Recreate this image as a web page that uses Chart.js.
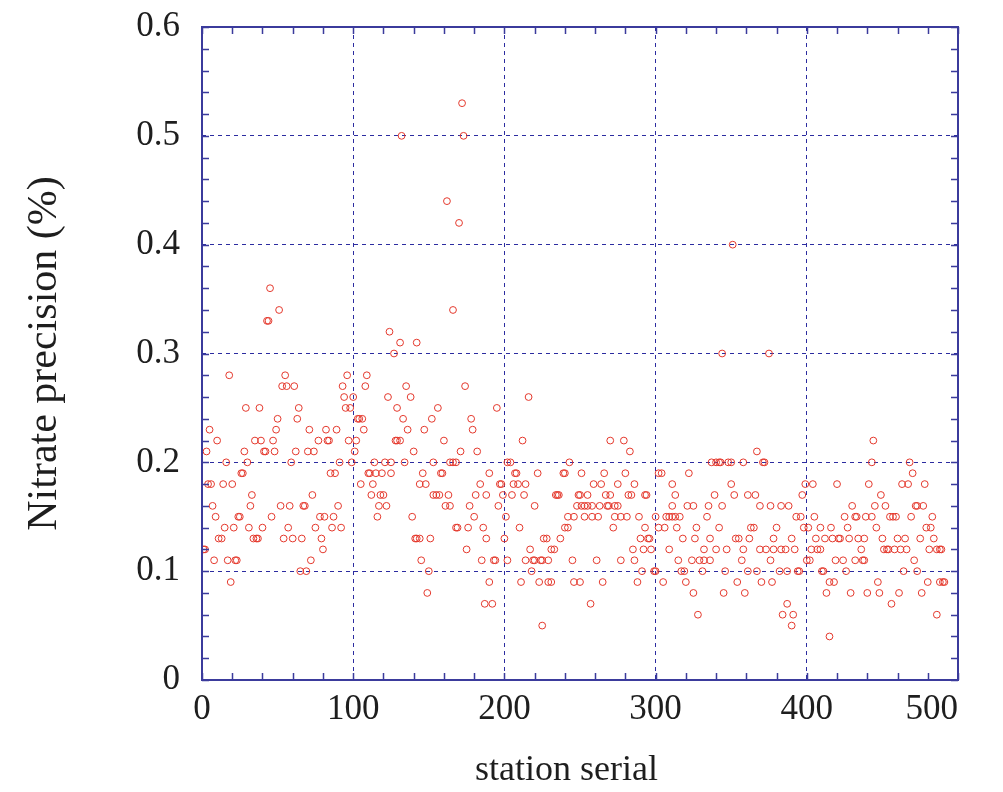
<!DOCTYPE html>
<html>
<head>
<meta charset="utf-8">
<script src="https://cdn.jsdelivr.net/npm/chart.js@4.4.1/dist/chart.umd.min.js"></script>
<style>
  html, body { margin: 0; padding: 0; background: #fff; }
</style>
</head>
<body>
<canvas id="myChart" width="1003" height="792"></canvas>
<script>
// station serial numbers
var serial = [
  1,2,3,4,5,6,7,8,9,10,
  11,13,14,15,16,17,18,19,20,21,
  22,23,24,25,26,27,28,29,30,31,
  32,33,34,35,36,37,38,39,40,41,
  42,43,44,45,46,47,48,49,50,51,
  52,53,54,55,56,57,58,59,60,61,
  62,63,64,65,66,67,68,69,70,71,
  72,73,74,75,77,78,79,80,81,82,
  83,84,85,86,87,88,89,90,91,92,
  93,94,95,96,97,98,99,100,101,102,
  103,104,105,106,107,108,109,110,111,112,
  113,114,115,116,117,118,119,120,121,122,
  123,124,125,125,127,128,129,129,
  131,131,132,133,134,135,136,138,139,140,
  141,142,142,144,144,145,146,147,148,149,
  150,151,152,153,153,155,156,157,158,159,
  160,161,162,163,164,164,166,166,168,168,
  169,170,171,172,173,174,175,176,177,178,
  179,180,181,182,184,185,186,187,188,188,
  190,190,192,193,194,195,196,197,198,
  199,200,201,202,202,204,205,206,207,208,
  209,210,211,212,213,214,214,216,217,218,
  219,220,220,222,223,224,225,225,226,228,
  229,229,231,231,233,234,235,236,237,239,
  240,240,242,242,243,245,246,246,248,249,
  250,250,251,251,253,253,255,255,257,258,
  258,259,261,262,263,264,265,266,267,268,
  269,270,270,272,273,273,275,275,277,277,
  279,280,281,282,283,284,285,286,286,288,
  289,290,291,292,293,293,294,295,296,297,
  299,300,300,302,302,304,305,306,307,309,
  309,311,311,311,313,313,314,315,316,317,
  318,319,320,321,322,324,325,325,326,
  327,328,329,331,332,332,334,335,336,336,
  337,339,340,340,342,342,343,344,344,345,
  346,347,348,350,350,351,352,353,354,355,
  357,358,358,359,361,361,362,363,365,366,
  367,367,369,369,370,371,372,373,375,376,
  376,377,378,378,380,382,383,383,384,
  386,387,387,388,390,390,391,392,393,394,
  395,396,397,398,399,400,401,402,403,404,
  405,406,407,409,409,410,411,412,413,415,
  415,416,417,418,419,420,421,422,424,425,
  426,427,428,429,430,432,432,433,434,436,
  437,438,438,439,440,441,443,443,444,
  445,446,447,448,449,450,451,452,453,454,
  455,456,457,458,459,460,461,462,463,464,
  465,466,467,468,469,470,471,472,473,473,
  475,476,477,478,479,480,481,482,483,484,
  486,486,488,488,489,490,491
]

// nitrate precision (%) for each station above
var precision = [
  .12,.12,.21,.18,.23,.18,.16,.11,.15,.22,
  .13,.13,.18,.14,.2,.11,.28,.09,.18,.14,
  .11,.11,.15,.15,.19,.19,.21,.25,.2,.14,
  .16,.17,.13,.22,.13,.13,.25,.22,.14,.21,
  .21,.33,.33,.36,.15,.22,.21,.23,.24,.34,
  .16,.27,.13,.28,.27,.14,.16,.2,.13,.27,
  .21,.24,.25,.1,.13,.16,.16,.1,.21,.23,
  .11,.17,.21,.14,.22,.15,.13,.12,.15,.23,
  .22,.22,.19,.14,.15,.19,.23,.16,.2,.14,
  .27,.26,.25,.28,.22,.25,.2,.26,.21,.22,
  .24,.24,.18,.24,.23,.27,.28,.19,.19,.17,
  .18,.2,.19,.15,.16,.17,.19,.17,.2,.16,
  .26,.32,.19,.2,.3,.22,.25,.22,
  .22,.31,.5,.24,.2,.27,.23,.26,.15,.21,
  .13,.31,.13,.13,.18,.11,.19,.23,.18,.08,
  .1,.13,.24,.2,.17,.17,.25,.17,.19,.19,
  .22,.16,.44,.17,.16,.2,.2,.34,.2,.14,
  .14,.42,.21,.53,.5,.27,.12,.14,.16,.24,
  .23,.15,.17,.21,.18,.11,.14,.07,.13,.17,
  .19,.09,.07,.11,.11,.25,.16,.18,.18,
  .17,.13,.15,.11,.2,.2,.17,.18,.19,.19,
  .18,.14,.09,.22,.17,.18,.11,.26,.12,.1,
  .11,.16,.11,.19,.09,.11,.05,.11,.13,.13,
  .11,.09,.09,.12,.12,.17,.17,.17,.13,.19,
  .19,.14,.14,.15,.2,.11,.15,.09,.16,.17,
  .17,.09,.19,.16,.15,.16,.16,.17,.07,.15,
  .16,.18,.11,.15,.16,.18,.09,.19,.17,.16,
  .16,.22,.17,.14,.15,.16,.18,.16,.11,.15,
  .22,.19,.15,.17,.21,.17,.12,.11,.18,.09,
  .15,.13,.1,.12,.17,.14,.17,.13,.13,.12,
  .1,.1,.15,.19,.14,.19,.09,.14,.15,.15,
  .12,.16,.15,.18,.15,.17,.14,.11,.15,.1,
  .13,.1,.09,.16,.19,.11,.16,.08,.13,
  .14,.06,.11,.1,.12,.11,.15,.16,.11,.13,
  .2,.17,.12,.2,.14,.2,.2,.16,.3,.08,
  .1,.12,.2,.2,.18,.4,.17,.13,.09,.13,
  .11,.12,.2,.08,.17,.1,.13,.14,.14,.17,
  .1,.21,.16,.12,.09,.2,.2,.12,.3,.16,
  .11,.09,.13,.12,.14,.1,.16,.12,.06,
  .12,.07,.1,.16,.05,.13,.06,.12,.15,.1,
  .1,.15,.17,.14,.18,.11,.14,.11,.12,.18,
  .15,.13,.12,.12,.14,.1,.1,.13,.08,.09,
  .04,.14,.13,.09,.11,.18,.13,.13,.11,.15,
  .1,.14,.13,.08,.16,.11,.15,.15,.13,.12,
  .11,.11,.13,.15,.08,.18,.2,.15,.22,
  .16,.14,.09,.08,.17,.13,.12,.16,.12,.12,
  .15,.07,.15,.12,.15,.13,.08,.12,.18,.1,
  .13,.12,.18,.2,.15,.19,.11,.16,.16,.1,
  .13,.08,.16,.18,.14,.09,.12,.14,.15,.13,
  .06,.12,.12,.09,.12,.09,.09
]

// axis tick values
var xTicks = [0, 100, 200, 300, 400, 500]
var yTicks = [0, 0.1, 0.2, 0.3, 0.4, 0.5, 0.6]
var xMinorStep = 20
var yMinorStep = 0.02

if (serial.length !== precision.length) console.log("length mismatch", serial.length, precision.length)

var points = []
for (var i = 0; i < serial.length; i++) {
    points.push({x: serial[i], y: precision[i]})
}

var frameColor = "#3b3b9c"
var gridColor = "#2c2ca0"
var textColor = "#1e1e1e"
var serif = "'Liberation Serif', 'DejaVu Serif', serif"

// frame around the plot plus the small inward ticks on all four sides
var framePlugin = {
    id: "frame",
    afterDraw: function(chart) {
        var ctx = chart.ctx
        var a = chart.chartArea
        var xs = chart.scales.x
        var ys = chart.scales.y
        var len = 7
        ctx.save()
        ctx.strokeStyle = frameColor
        ctx.lineWidth = 1.5
        ctx.beginPath()
        for (var v = xTicks[0]; v <= xTicks[xTicks.length - 1] + 0.001; v += xMinorStep) {
            var px = Math.round(xs.getPixelForValue(v)) + 0.5
            ctx.moveTo(px, a.bottom); ctx.lineTo(px, a.bottom - len)
            ctx.moveTo(px, a.top); ctx.lineTo(px, a.top + len)
        }
        for (var k = 0; k * yMinorStep <= yTicks[yTicks.length - 1] + 0.0001; k++) {
            var py = Math.round(ys.getPixelForValue(k * yMinorStep)) + 0.5
            ctx.moveTo(a.left, py); ctx.lineTo(a.left + len, py)
            ctx.moveTo(a.right, py); ctx.lineTo(a.right - len, py)
        }
        ctx.stroke()
        ctx.lineWidth = 2
        ctx.strokeRect(a.left, a.top, a.right - a.left, a.bottom - a.top)
        ctx.restore()
    }
}

var myChart = document.getElementById("myChart").getContext("2d")

var chart = new Chart(myChart, {
    type: "scatter",
    data: {
        datasets: [{
            label: "Nitrate precision",
            data: points,
            showLine: false,
            pointStyle: "circle",
            pointRadius: 3.4,
            pointBorderWidth: 1,
            pointBorderColor: "#e4382c",
            pointBackgroundColor: "rgba(0,0,0,0)",
            pointHoverRadius: 3.4
        }]
    },
    options: {
        responsive: false,
        animation: false,
        devicePixelRatio: 1,
        layout: {padding: {left: 0, top: 27, right: 45, bottom: 0}},
        plugins: {
            legend: {display: false},
            tooltip: {enabled: false}
        },
        scales: {
            x: {
                type: "linear",
                min: 0,
                max: 500,
                afterFit: function(scale) {
                    scale.height = 112
                    scale.paddingLeft = 0
                    scale.paddingRight = 0
                },
                afterBuildTicks: function(scale) {
                    scale.ticks = xTicks.map(function(v) { return {value: v} })
                },
                grid: {color: gridColor, lineWidth: 1, drawTicks: false},
                border: {display: false, dash: [4, 4]},
                ticks: {
                    color: textColor,
                    font: {family: serif, size: 35},
                    padding: 9,
                    maxRotation: 0,
                    // the last label sits inside the frame, as in the original
                    callback: function(v) { return v === 500 ? "500\u2002\u2002\u2002" : String(v) }
                },
                title: {
                    display: true,
                    text: "station serial\u2002 ",
                    color: textColor,
                    font: {family: serif, size: 36},
                    padding: {top: 0, bottom: 0}
                }
            },
            y: {
                type: "linear",
                min: 0,
                max: 0.6,
                afterFit: function(scale) {
                    scale.width = 202
                    scale.paddingTop = 0
                    scale.paddingBottom = 0
                },
                afterBuildTicks: function(scale) {
                    scale.ticks = yTicks.map(function(v) { return {value: v} })
                },
                grid: {color: gridColor, lineWidth: 1, drawTicks: false},
                border: {display: false, dash: [4, 4]},
                ticks: {
                    color: textColor,
                    font: {family: serif, size: 35},
                    padding: 22,
                    callback: function(v) { return String(Math.round(v * 10) / 10) }
                },
                title: {
                    display: true,
                    text: "Nitrate precision (%)",
                    color: textColor,
                    font: {family: serif, size: 42},
                    padding: {top: 20, bottom: 0}
                }
            }
        }
    },
    plugins: [framePlugin]
})
</script>
</body>
</html>
